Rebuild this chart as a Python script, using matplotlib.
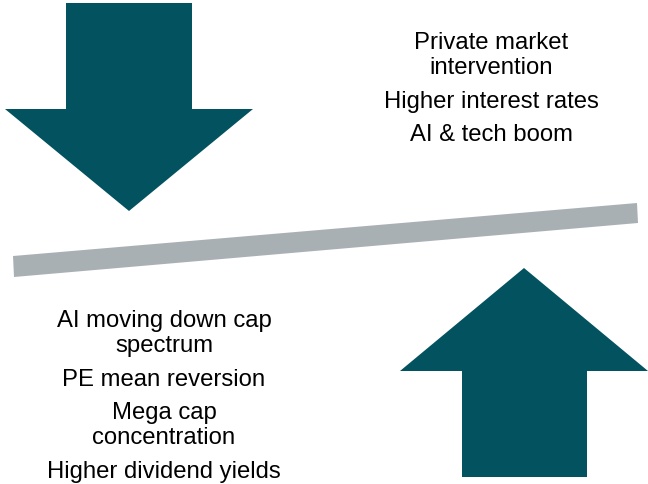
import matplotlib.pyplot as plt
from matplotlib.patches import Polygon

plt.rcParams['font.family'] = ['Liberation Sans', 'DejaVu Sans']

TEAL = '#02525f'
GREY = '#a9b0b4'

# headwinds (top, pushing down) and tailwinds (bottom, pushing up)
DOWN_LABELS = ['Private market\nintervention', 'Higher interest rates', 'AI & tech boom']
DOWN_Y = [55.5, 102, 135.5]
UP_LABELS = ['AI moving down cap\nspectrum', 'PE mean reversion', 'Mega cap\nconcentration',
             'Higher dividend yields']
UP_Y = [333.5, 380.5, 425.5, 472.5]

fig = plt.figure(figsize=(6.48, 4.85), dpi=100)
ax = fig.add_axes([0, 0, 1, 1])
ax.set_xlim(0, 648)
ax.set_ylim(485, 0)
ax.axis('off')

# down arrow
down = [(66, 4), (192, 4), (192, 110), (253, 110), (129, 212), (5, 110), (66, 110)]
ax.add_patch(Polygon(down, closed=True, color=TEAL, lw=0))

# up arrow
up = [(462, 478), (587, 478), (587, 372), (648, 372), (524, 269), (400, 372), (462, 372)]
ax.add_patch(Polygon(up, closed=True, color=TEAL, lw=0))

# tilted beam
beam = [(13, 257), (637, 204), (638, 224), (14, 278)]
ax.add_patch(Polygon(beam, closed=True, color=GREY, lw=0))

for lab, y in zip(DOWN_LABELS, DOWN_Y):
    ax.text(491, y, lab, ha='center', va='center', fontsize=17.2, linespacing=1.2)
for lab, y in zip(UP_LABELS, UP_Y):
    ax.text(164, y, lab, ha='center', va='center', fontsize=17.2, linespacing=1.2)

fig.savefig('out.png', dpi=100)
